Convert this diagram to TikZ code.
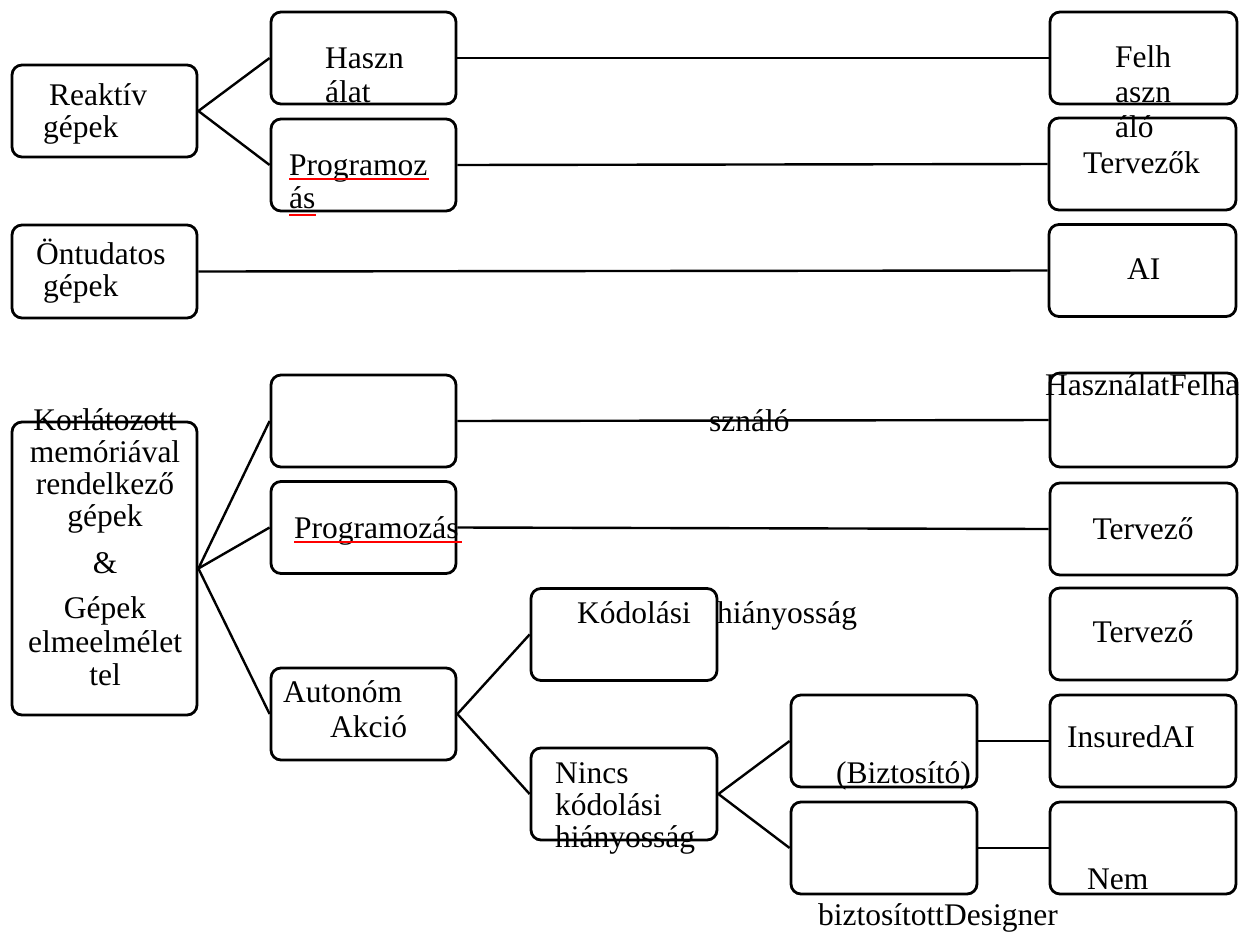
\documentclass[tikz,border=0pt]{standalone}
\usepackage{fontspec}
\setmainfont{Liberation Serif}
\tikzset{
  box/.style={draw, line width=2.8pt, rounded corners=10pt,
    minimum width=185pt, minimum height=92pt, inner sep=0pt},
  txt/.style={font=\fontsize{31.5}{33}\selectfont, inner sep=0pt, anchor=base west},
  link/.style={line width=2.4pt},
  spell/.style={red, line width=2pt}
}
\begin{document}
\begin{tikzpicture}[x=1pt, y=-1pt]
  \useasboundingbox (0,0) rectangle (1247,932);
  % boxes, upper part
  \node[box] (reak) at (104.5,111) {};
  \node[box] (hasz) at (363.5,58) {};
  \node[box] (prog) at (363.5,165) {};
  \node[box, minimum width=187pt] (felh) at (1143.5,58) {};
  \node[box, minimum width=187pt] (terv) at (1142.5,164) {};
  \node[box, minimum height=93pt] (ontu) at (104.5,271.5) {};
  \node[box, minimum width=187pt] (ai) at (1142.5,270.5) {};
  % boxes, lower part
  \node[box, minimum height=293pt] (korl) at (104.5,568.5) {};
  \node[box] (hasz2) at (363.5,421) {};
  \node[box] (prog2) at (363.5,527.5) {};
  \node[box] (auto) at (363.5,714) {};
  \node[box, minimum width=187pt, minimum height=94pt] (felh2) at (1143.5,420) {};
  \node[box, minimum width=187pt] (terv2) at (1143.5,529) {};
  \node[box, minimum width=187pt] (terv3) at (1143.5,634) {};
  \node[box, minimum width=186pt] (kodo) at (624,634.5) {};
  \node[box, minimum width=186pt] (ninc) at (624,794) {};
  \node[box, minimum width=186pt] (bizt) at (884,741) {};
  \node[box, minimum width=186pt] (nemb) at (884,848) {};
  \node[box, minimum width=186pt] (insu) at (1143,741) {};
  \node[box, minimum width=186pt] (nemd) at (1143,848) {};

  % connectors
  \draw[link] (reak.east) -- (hasz.west);
  \draw[link] (reak.east) -- (prog.west);
  \draw[link] (hasz.east) -- (felh.west);
  \draw[link] (prog.east) -- (terv.west);
  \draw[link] (ontu.east) -- (ai.west);
  \draw[link] (korl.east) -- (hasz2.west);
  \draw[link] (korl.east) -- (prog2.west);
  \draw[link] (korl.east) -- (auto.west);
  \draw[link] (hasz2.east) -- (felh2.west);
  \draw[link] (prog2.east) -- (terv2.west);
  \draw[link] (auto.east) -- (kodo.west);
  \draw[link] (auto.east) -- (ninc.west);
  \draw[link] (ninc.east) -- (bizt.west);
  \draw[link] (ninc.east) -- (nemb.west);
  \draw[link] (bizt.east) -- (insu.west);
  \draw[link] (nemb.east) -- (nemd.west);

  % texts, upper part
  \node[txt] (reak1) at (49,105) {Reaktív};
  \node[txt] (reak2) at (43,137) {gépek};
  \node[txt] (hasz1) at (325,68) {Haszn};
  \node[txt] (hasz2t) at (325,102) {álat};
  \node[txt] (prog1) at (289,175) {Programoz};
  \node[txt] (prog2t) at (289,208) {ás};
  \node[txt] (ontu1) at (36,264) {Öntudatos};
  \node[txt] (ontu2) at (43,296) {gépek};
  \node[txt] (felh1) at (1115,67) {Felh};
  \node[txt] (felh2t) at (1115,102) {aszn};
  \node[txt] (felh3) at (1115,137) {áló};
  \node[txt] (terv1) at (1083,173) {Tervezők};
  \node[txt] (ai1) at (1127,279) {AI};
  \draw[spell] (289,179) -- (429,179);
  \draw[spell] (289,215) -- (316,215);

  % texts, lower part
  \foreach \t/\y in {Korlátozott/430, memóriával/462, rendelkező/494, gépek/526,
      \&/573, Gépek/618, elmeelmélet/652, tel/685}
    \node[txt, anchor=base] (korl\y) at (105,\y) {\t};
  \node[txt] (felh2a) at (1045,395) {HasználatFelha};
  \node[txt] (felh2b) at (709,431) {sználó};
  \node[txt] (prog2a) at (294,538) {Programozás};
  \draw[spell] (294,542) -- (462,542);
  \node[txt, anchor=base] (terv2a) at (1143,539) {Tervező};
  \node[txt, anchor=base] (terv3a) at (1143,642) {Tervező};
  \node[txt] (auto1) at (283,702) {Autonóm};
  \node[txt] (auto2) at (330,737) {Akció};
  \node[txt] (kodo1) at (577,623) {Kódolási};
  \node[txt] (kodo2) at (717,623) {hiányosság};
  \node[txt] (ninc1) at (555,783) {Nincs};
  \node[txt] (ninc2) at (555,815) {kódolási};
  \node[txt] (ninc3) at (555,847) {hiányosság};
  \node[txt] (bizt1) at (836,783) {(Biztosító)};
  \node[txt] (insu1) at (1067,747) {InsuredAI};
  \node[txt] (nemd1) at (1087,889) {Nem};
  \node[txt] (nemb1) at (818,925) {biztosítottDesigner};
\end{tikzpicture}
\end{document}
